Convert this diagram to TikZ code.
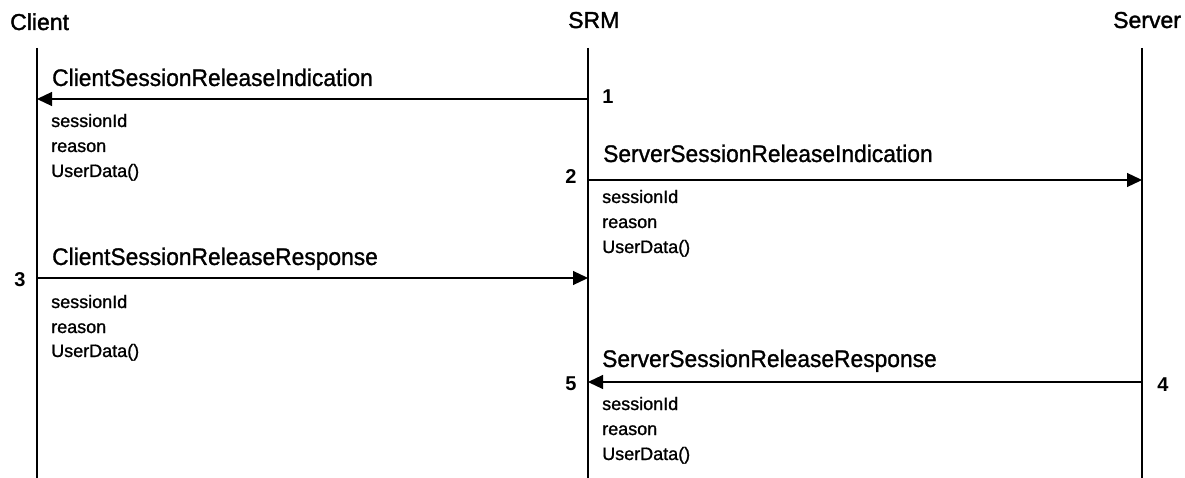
\documentclass[tikz,border=0pt]{standalone}
\usepackage{fontspec}
\usepackage{graphicx}
\setmainfont{Liberation Sans}
% heavier strokes for all diagram text
\newfontfamily\diagfont[FakeBold=1.1]{Liberation Sans}
\newfontfamily\headfont[FakeBold=1.6]{Liberation Sans}
\usetikzlibrary{arrows.meta}

% horizontally tightened message names
\newcommand\msgname[1]{\scalebox{0.95}[1]{#1}}

\begin{document}
\begin{tikzpicture}[x=1pt,y=-1pt,
  lifeline/.style={line width=1.4pt},
  msg/.style={line width=1.2pt,-{Triangle[length=15pt,width=14pt]}},
  head/.style={anchor=base west,inner sep=0pt,font=\headfont\fontsize{23}{23}\selectfont},
  msglabel/.style={anchor=base west,inner sep=0pt,font=\diagfont\fontsize{24}{24}\selectfont},
  param/.style={anchor=base west,inner sep=0pt,font=\diagfont\fontsize{18}{18}\selectfont},
  stepno/.style={anchor=center,inner sep=0pt,font=\fontsize{20}{20}\selectfont\bfseries}]

\useasboundingbox (0,0) rectangle (1185,478);

% participants
\node[head] (hClient) at (10,30) {Client};
\node[head] (hSRM)    at (568,28) {SRM};
\node[head] (hServer) at (1113,28) {Server};

% lifelines
\coordinate (clientTop) at (37,48);   \coordinate (clientBot) at (37,478);
\coordinate (srmTop)    at (588,48);  \coordinate (srmBot)    at (588,478);
\coordinate (serverTop) at (1142,48); \coordinate (serverBot) at (1142,478);
\draw[lifeline] (clientTop) -- (clientBot);
\draw[lifeline] (srmTop) -- (srmBot);
\draw[lifeline] (serverTop) -- (serverBot);

% message end points on the lifelines
\coordinate (m1a) at (588,99);   \coordinate (m1b) at (37,99);
\coordinate (m2a) at (588,180);  \coordinate (m2b) at (1142,180);
\coordinate (m3a) at (37,278);   \coordinate (m3b) at (588,278);
\coordinate (m4a) at (1142,382); \coordinate (m4b) at (588,382);

% messages
\draw[msg] (m1a) -- (m1b);
\draw[msg] (m2a) -- (m2b);
\draw[msg] (m3a) -- (m3b);
\draw[msg] (m4a) -- (m4b);

% message names
\node[msglabel] (l1) at (52,86)   {\msgname{ClientSessionReleaseIndication}};
\node[msglabel] (l2) at (603,162) {\msgname{ServerSessionReleaseIndication}};
\node[msglabel] (l3) at (52,265)  {\msgname{ClientSessionReleaseResponse}};
\node[msglabel] (l4) at (602,367) {\msgname{ServerSessionReleaseResponse}};

% parameters
\node[param] (p1a) at (51,127) {sessionId};
\node[param] (p1b) at (51,152) {reason};
\node[param] (p1c) at (51,177) {UserData()};

\node[param] (p2a) at (602,203) {sessionId};
\node[param] (p2b) at (602,228) {reason};
\node[param] (p2c) at (602,253) {UserData()};

\node[param] (p3a) at (51,308) {sessionId};
\node[param] (p3b) at (51,333) {reason};
\node[param] (p3c) at (51,357) {UserData()};

\node[param] (p4a) at (602,410) {sessionId};
\node[param] (p4b) at (602,435) {reason};
\node[param] (p4c) at (602,460) {UserData()};

% step numbers
\node[stepno] (n1) at (608,97)  {1};
\node[stepno] (n2) at (571,177) {2};
\node[stepno] (n3) at (20,280)  {3};
\node[stepno] (n4) at (1163,385) {4};
\node[stepno] (n5) at (571,384) {5};

\end{tikzpicture}
\end{document}
